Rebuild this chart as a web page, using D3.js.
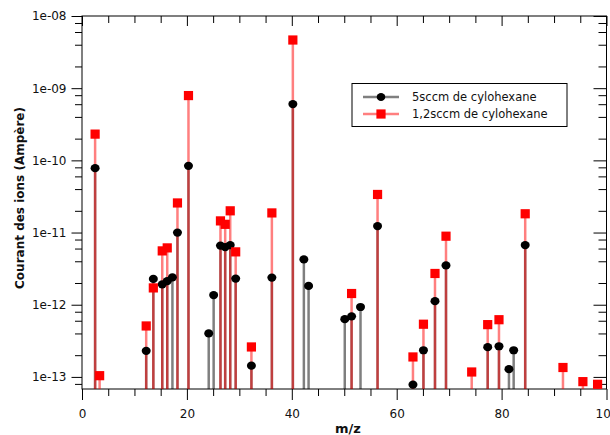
<!DOCTYPE html>
<html><head><meta charset="utf-8">
<script src="https://cdn.jsdelivr.net/npm/d3@7"></script>
<style>
html,body{margin:0;padding:0;background:#fff;overflow:hidden}
svg{display:block;font-family:"DejaVu Sans",Verdana,sans-serif}
</style></head>
<body><svg id="c" width="610" height="435"></svg>
<script>
const seriesNames = ["5sccm de cylohexane", "1,2sccm de cylohexane"];
const mzBlack = [2.5, 12.24, 13.6, 15.3, 16.25, 17.24, 18.2, 20.3, 24.16, 25.1, 26.4, 27.3, 28.26, 29.3, 32.3, 36.2, 40.2, 42.3, 43.2, 50.1, 51.4, 53.1, 56.35, 63.1, 65.1, 67.3, 69.4, 77.35, 79.5, 81.4, 82.3, 84.5];
const currentBlack = [7.8e-11, 2.3e-13, 2.28e-12, 1.92e-12, 2.12e-12, 2.4e-12, 1.0e-11, 8.4e-11, 4.0e-13, 1.36e-12, 6.6e-12, 6.3e-12, 6.7e-12, 2.3e-12, 1.43e-13, 2.38e-12, 6.03e-10, 4.24e-12, 1.82e-12, 6.3e-13, 6.9e-13, 9.3e-13, 1.23e-11, 7.8e-14, 2.34e-13, 1.12e-12, 3.5e-12, 2.58e-13, 2.66e-13, 1.28e-13, 2.34e-13, 6.7e-12];
const mzRed = [2.5, 3.36, 12.24, 13.6, 15.3, 16.25, 18.2, 20.3, 26.4, 27.3, 28.26, 29.3, 32.3, 36.2, 40.2, 51.4, 56.35, 63.1, 65.1, 67.3, 69.4, 74.3, 77.35, 79.5, 84.5, 91.7, 95.5, 98.3];
const currentRed = [2.31e-10, 1.04e-13, 5.08e-13, 1.71e-12, 5.57e-12, 6.13e-12, 2.57e-11, 7.9e-10, 1.45e-11, 1.3e-11, 2.0e-11, 5.4e-12, 2.6e-13, 1.87e-11, 4.65e-9, 1.43e-12, 3.37e-11, 1.89e-13, 5.37e-13, 2.71e-12, 8.9e-12, 1.17e-13, 5.3e-13, 6.2e-13, 1.82e-11, 1.35e-13, 8.6e-14, 7.9e-14];
const xTickValues = [0, 20, 40, 60, 80, 100];
const xTickLabels = ["0", "20", "40", "60", "80", "100"];
const yTickValues = [1e-8, 1e-9, 1e-10, 1e-11, 1e-12, 1e-13];
const yTickLabels = ["1e-08", "1e-09", "1e-10", "1e-11", "1e-12", "1e-13"];
const xTitle = "m/z";
const yTitle = "Courant des ions (Ampère)";

const L = 82, R = 606.5, T = 16, B = 389;
const svg = d3.select("#c");
const x = d3.scaleLinear().domain([0, 100]).range([L, R]);
const y = d3.scaleLog().domain([6.8e-14, 1e-8]).range([B, T]);

const xMinor = d3.range(0, 101, 5).filter(v => v % 20 !== 0);
const yMinor = [];
for (let e = -14; e <= -9; e++) for (const m of [2, 4, 6, 8]) { const v = m * Math.pow(10, e); if (v >= y.domain()[0] && v <= 1e-8) yMinor.push(v); }

function styleAxis(g) { g.select(".domain").remove(); g.selectAll("line").attr("stroke", "#000"); g.selectAll("text").attr("fill", "#111").style("font-size", "12px").style("font-family", "DejaVu Sans, Verdana, sans-serif"); }

// bottom
svg.append("g").attr("transform", `translate(0,${B})`).call(d3.axisBottom(x).tickValues(xTickValues).tickSize(11).tickPadding(9).tickFormat((d, i) => xTickLabels[i])).call(styleAxis);
svg.append("g").attr("transform", `translate(0,${B})`).call(d3.axisBottom(x).tickValues(xMinor).tickSize(7).tickFormat("")).call(styleAxis);
// top (inward)
svg.append("g").attr("transform", `translate(0,${T})`).call(d3.axisBottom(x).tickValues(xTickValues).tickSize(10).tickFormat("")).call(styleAxis);
svg.append("g").attr("transform", `translate(0,${T})`).call(d3.axisBottom(x).tickValues(xMinor).tickSize(7).tickFormat("")).call(styleAxis);
// left
svg.append("g").attr("transform", `translate(${L},0)`).call(d3.axisLeft(y).tickValues(yTickValues).tickSize(10.5).tickPadding(5).tickFormat((d, i) => yTickLabels[i])).call(styleAxis);
svg.append("g").attr("transform", `translate(${L},0)`).call(d3.axisLeft(y).tickValues(yMinor).tickSize(7).tickFormat("")).call(styleAxis);
// right (inward)
svg.append("g").attr("transform", `translate(${R},0)`).call(d3.axisLeft(y).tickValues(yTickValues).tickSize(13).tickFormat("")).call(styleAxis);
svg.append("g").attr("transform", `translate(${R},0)`).call(d3.axisLeft(y).tickValues(yMinor).tickSize(8).tickFormat("")).call(styleAxis);

// frame
svg.append("rect").attr("x", L).attr("y", T).attr("width", R - L).attr("height", B - T).attr("fill", "none").attr("stroke", "#000").attr("stroke-width", 1);

const black = mzBlack.map((m, i) => ({ m, v: currentBlack[i] }));
const red = mzRed.map((m, i) => ({ m, v: currentRed[i] }));

// stems
svg.append("g").selectAll("line").data(black).join("line")
  .attr("x1", d => x(d.m)).attr("x2", d => x(d.m)).attr("y1", B).attr("y2", d => y(d.v))
  .attr("stroke", "#000").attr("stroke-opacity", 0.5).attr("stroke-width", 2.5);
svg.append("g").selectAll("line").data(red).join("line")
  .attr("x1", d => x(d.m)).attr("x2", d => x(d.m)).attr("y1", B).attr("y2", d => y(d.v))
  .attr("stroke", "#ff0000").attr("stroke-opacity", 0.5).attr("stroke-width", 2.5);
// markers
svg.append("g").selectAll("ellipse").data(black).join("ellipse")
  .attr("cx", d => x(d.m)).attr("cy", d => y(d.v)).attr("rx", 4.5).attr("ry", 4.1).attr("fill", "#000");
svg.append("g").selectAll("rect").data(red).join("rect")
  .attr("x", d => x(d.m) - 4.6).attr("y", d => y(d.v) - 4.6).attr("width", 9.2).attr("height", 9.2).attr("fill", "#ff0000");

// titles
svg.append("text").attr("x", 348).attr("y", 433).attr("text-anchor", "middle").attr("font-weight", "bold").attr("font-size", 13).attr("fill", "#111").text(xTitle);
svg.append("text").attr("transform", "translate(24,198) rotate(-90)").attr("text-anchor", "middle").attr("font-weight", "bold").attr("font-size", 12).attr("fill", "#111").text(yTitle);

// legend
const lg = svg.append("g");
lg.append("rect").attr("x", 352).attr("y", 83.5).attr("width", 215).attr("height", 43).attr("fill", "#fff").attr("stroke", "#000").attr("stroke-width", 1);
const rows = [{ name: seriesNames[0], c: "#000", shape: "circle" }, { name: seriesNames[1], c: "#ff0000", shape: "square" }];
rows.forEach((r, i) => {
  const cy = 97 + i * 17;
  lg.append("line").attr("x1", 363).attr("x2", 399).attr("y1", cy).attr("y2", cy).attr("stroke", r.c).attr("stroke-opacity", 0.5).attr("stroke-width", 2.5);
  if (r.shape === "circle") lg.append("ellipse").attr("cx", 381).attr("cy", cy).attr("rx", 4.3).attr("ry", 4).attr("fill", r.c);
  else lg.append("rect").attr("x", 381 - 4.6).attr("y", cy - 4.6).attr("width", 9.2).attr("height", 9.2).attr("fill", r.c);
  lg.append("text").attr("x", 412).attr("y", cy + 4.2).attr("font-size", 11.5).attr("fill", "#111").text(r.name);
});
</script></body></html>
